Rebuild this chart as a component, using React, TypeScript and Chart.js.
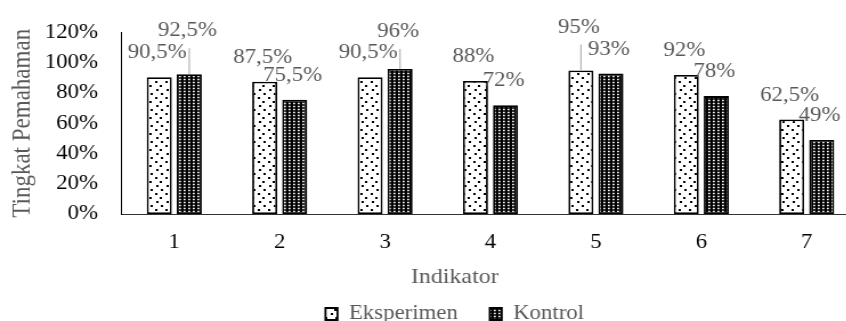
import React, { useEffect, useRef } from 'react';
import { Chart, registerables } from 'chart.js';

Chart.register(...registerables);

// ---- data ----
const categories = ['1', '2', '3', '4', '5', '6', '7'];
const eksperimen = [90.5, 87.5, 90.5, 88, 95, 92, 62.5];
const kontrol = [92.5, 75.5, 96, 72, 93, 78, 49];
const seriesNames = ['Eksperimen', 'Kontrol'];
const yMin = 0;
const yMax = 120;
const yStep = 20;
const xTitle = 'Indikator';
const yTitle = 'Tingkat Pemahaman';

// ---- styling / layout ----
const STRETCH = 1.14;
const CANVAS_W = 797;
const CANVAS_H = 332;
const SERIF = '"Liberation Serif", "Times New Roman", serif';
const GREY = '#595959';
const Y_AXIS_WIDTH = 106.6;
const X_AXIS_HEIGHT = 41;
const LEGEND_SHIFT = 22;

const LABEL_LAYOUT = {
  dx: -1.75,
  dy: -24,
  leaderGap: 17,
  // extra upward shift (px) for labels moved above with a leader line
  lift: [
    [0, 0, 0, 0, 19, 0, 0],
    [19, 0, 13, 0, 0, 0, 0],
  ],
};

const fmt = (v: number) => String(v).replace('.', ',') + '%';

function dotPattern(ctx: CanvasRenderingContext2D) {
  const c = document.createElement('canvas');
  c.width = 9;
  c.height = 16;
  const g = c.getContext('2d')!;
  g.fillStyle = '#ffffff';
  g.fillRect(0, 0, 9, 16);
  g.fillStyle = '#000000';
  [[1, 1], [5, 5], [2, 9], [6, 13]].forEach(([x, y]) => g.fillRect(x, y, 2, 2));
  return ctx.createPattern(c, 'repeat')!;
}

function gridPattern(ctx: CanvasRenderingContext2D) {
  const c = document.createElement('canvas');
  c.width = 4;
  c.height = 3;
  const g = c.getContext('2d')!;
  g.fillStyle = '#000000';
  g.fillRect(0, 0, 4, 3);
  g.fillStyle = '#ffffff';
  g.fillRect(1, 0.75, 1.7, 1.5);
  return ctx.createPattern(c, 'repeat')!;
}

const valueLabelPlugin = {
  id: 'valueLabels',
  afterDatasetsDraw(chart: any) {
    const ctx: CanvasRenderingContext2D = chart.ctx;
    ctx.save();
    ctx.font = `20px ${SERIF}`;
    ctx.textAlign = 'center';
    ctx.textBaseline = 'middle';
    chart.data.datasets.forEach((ds: any, di: number) => {
      const meta = chart.getDatasetMeta(di);
      meta.data.forEach((bar: any, i: number) => {
        const v = ds.data[i] as number;
        const lift = LABEL_LAYOUT.lift[di][i];
        const x = bar.x + LABEL_LAYOUT.dx;
        const y = bar.y + LABEL_LAYOUT.dy - lift;
        if (lift > 0) {
          ctx.strokeStyle = '#a6a6a6';
          ctx.lineWidth = 1;
          ctx.beginPath();
          ctx.moveTo(bar.x, y + LABEL_LAYOUT.leaderGap);
          ctx.lineTo(bar.x, bar.y);
          ctx.stroke();
        }
        ctx.fillStyle = GREY;
        ctx.fillText(fmt(v), x, y);
      });
    });
    ctx.restore();
  },
};

const legendShiftPlugin = {
  id: 'legendShift',
  afterLayout(chart: any) {
    const lg = chart.legend;
    if (lg) {
      lg.left += LEGEND_SHIFT;
      lg.right += LEGEND_SHIFT;
      lg.top += 2;
      lg.bottom += 2;
    }
  },
};

export default function App() {
  const canvasRef = useRef<HTMLCanvasElement | null>(null);

  useEffect(() => {
    const canvas = canvasRef.current;
    if (!canvas) return;
    const ctx = canvas.getContext('2d')!;
    const chart = new Chart(canvas, {
      type: 'bar',
      data: {
        labels: categories,
        datasets: [
          {
            label: seriesNames[0],
            data: eksperimen,
            backgroundColor: dotPattern(ctx),
            borderColor: '#000000',
            borderWidth: 1.8,
            borderSkipped: false,
            categoryPercentage: 0.5695,
            barPercentage: 0.8333,
          },
          {
            label: seriesNames[1],
            data: kontrol,
            backgroundColor: gridPattern(ctx),
            borderColor: '#000000',
            borderWidth: 1.8,
            borderSkipped: false,
            categoryPercentage: 0.5695,
            barPercentage: 0.8333,
          },
        ],
      },
      options: {
        responsive: false,
        animation: false,
        events: [],
        layout: { autoPadding: false, padding: { top: 30, right: 43.5, left: 0, bottom: 0 } },
        plugins: {
          tooltip: { enabled: false },
          legend: {
            position: 'bottom',
            labels: {
              font: { family: SERIF, size: 20 },
              color: GREY,
              boxWidth: 10.5,
              boxHeight: 12,
              padding: 28,
            },
            title: {
              display: true,
              text: xTitle,
              color: GREY,
              font: { family: SERIF, size: 21 },
              padding: { top: 9.5, bottom: -15.7 },
            },
          },
        },
        scales: {
          x: {
            grid: { display: false, drawTicks: false },
            border: { display: true, color: '#333333', width: 1 },
            ticks: { font: { family: SERIF, size: 20 }, color: '#000000', padding: 17 },
            afterFit: (scale: any) => {
              scale.height = X_AXIS_HEIGHT;
            },
          },
          y: {
            min: yMin,
            max: yMax,
            grid: { display: false, drawTicks: false },
            border: { display: true, color: '#000000', width: 1 },
            ticks: {
              stepSize: yStep,
              autoSkip: false,
              font: { family: SERIF, size: 20 },
              color: '#000000',
              padding: 20.6,
              callback: (v: any) => `${v}%`,
            },
            title: {
              display: true,
              text: yTitle,
              color: GREY,
              font: { family: SERIF, size: 23 },
              padding: { top: 5.9, bottom: 0 },
            },
            afterFit: (scale: any) => {
              scale.width = Y_AXIS_WIDTH;
            },
          },
        },
      },
      plugins: [valueLabelPlugin, legendShiftPlugin],
    });
    return () => chart.destroy();
  }, []);

  return (
    <div
      style={{
        position: 'fixed',
        left: 0,
        top: 0,
        width: 846,
        height: 321,
        overflow: 'hidden',
        background: '#ffffff',
      }}
    >
      <canvas
        ref={canvasRef}
        width={CANVAS_W}
        height={CANVAS_H}
        style={{ width: `${CANVAS_W * STRETCH}px`, height: `${CANVAS_H}px`, display: 'block' }}
      />
    </div>
  );
}
